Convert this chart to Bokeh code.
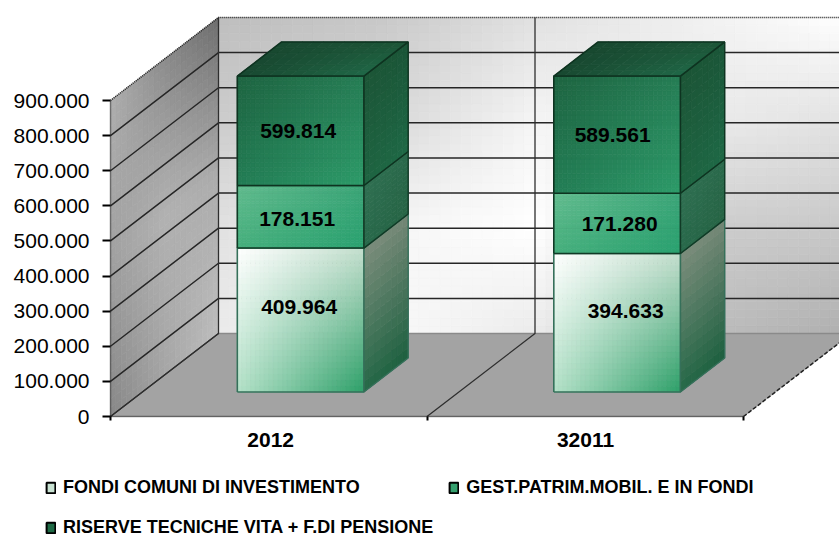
from bokeh.plotting import figure
from bokeh.models import (FixedTicker, Legend, LegendItem, Range1d)
from bokeh.core.properties import value
from bokeh.embed import file_html
from bokeh.resources import INLINE
import numpy as np

# ---- data
categories = ["2012", "32011"]
fondi = [409964, 394633]
gest = [178151, 171280]
riserve = [599814, 589561]
value_labels = [["409.964", "178.151", "599.814"], ["394.633", "171.280", "589.561"]]
y_ticks = [0, 100000, 200000, 300000, 400000, 500000, 600000, 700000, 800000, 900000]
y_labels = ["0", "100.000", "200.000", "300.000", "400.000", "500.000", "600.000", "700.000", "800.000", "900.000"]
series_names = ["FONDI COMUNI DI INVESTIMENTO", "GEST.PATRIM.MOBIL. E IN FONDI", "RISERVE TECNICHE VITA + F.DI PENSIONE"]
y_max = 900000

# ---- layout / projection
W, H = 839, 536
AXIS_X, AXIS_Y = 110, 416
PX_PER_CAT = 316.5
PX_PER_VAL = 316.0 / y_max
DEPTH_X = 108 / PX_PER_CAT
DEPTH_V = 83 / PX_PER_VAL
FONT = "Liberation Sans"


def proj(x, v, d=0.0):
    return (x + DEPTH_X * d, v + DEPTH_V * d)


p = figure(width=W, height=H, output_backend="svg", toolbar_location=None,
           min_border_left=0, min_border_right=0, min_border_top=0, min_border_bottom=0,
           x_range=Range1d(-AXIS_X / PX_PER_CAT, (W - AXIS_X) / PX_PER_CAT),
           y_range=Range1d((AXIS_Y - H) / PX_PER_VAL, AXIS_Y / PX_PER_VAL),
           background_fill_color="white", border_fill_color="white")
p.outline_line_color = None
p.grid.visible = False

# ---- axes
xa = p.xaxis[0]
xa.fixed_location = 0
xa.ticker = FixedTicker(ticks=[0.506, 1.501], minor_ticks=[0, 1, 2])
xa.major_label_overrides = {0.506: categories[0], 1.501: categories[1]}
xa.bounds = (0, 2)
xa.major_tick_in = xa.major_tick_out = 0
xa.minor_tick_in = 0
xa.minor_tick_out = 4
xa.minor_tick_line_width = 2
xa.minor_tick_line_color = "black"
xa.axis_line_color = "#222222"
xa.axis_line_width = 1.5
xa.axis_line_dash = "1 1"
xa.major_label_text_font = FONT
xa.major_label_text_font_style = "bold"
xa.major_label_text_font_size = "21px"
xa.major_label_text_color = "black"
xa.major_label_standoff = 12

ya = p.yaxis[0]
ya.fixed_location = 0
ya.ticker = FixedTicker(ticks=y_ticks)
ya.major_label_overrides = dict(zip(y_ticks, y_labels))
ya.bounds = (0, y_max)
ya.major_tick_in = 0
ya.major_tick_out = 8
ya.major_tick_line_width = 2
ya.major_tick_line_color = "black"
ya.minor_tick_in = ya.minor_tick_out = 0
ya.axis_line_color = "#222222"
ya.axis_line_width = 1.5
ya.axis_line_dash = "1 1"
ya.major_label_text_font = FONT
ya.major_label_text_font_style = "normal"
ya.major_label_text_font_size = "21px"
ya.major_label_text_color = "black"
ya.major_label_standoff = 13


# ---- shaded faces
def to_hex(c):
    return "#%02x%02x%02x" % tuple(int(round(max(0, min(255, a)))) for a in c)


def shaded_face(corners, grid, nu=14, nv=14):
    """corners BL, BR, TR, TL; grid rows run bottom to top, columns left to right."""
    g = np.array(grid, dtype=float)
    if g.ndim == 2:
        g = np.stack([g, g, g], axis=-1)
    rows, cols = g.shape[:2]
    c = np.array(corners, dtype=float)

    def pt(u, t):
        return (1 - t) * ((1 - u) * c[0] + u * c[1]) + t * ((1 - u) * c[3] + u * c[2])

    def col(u, t):
        fr, fc = t * (rows - 1), u * (cols - 1)
        r0, c0 = min(int(fr), rows - 2), min(int(fc), cols - 2)
        tr, tc = fr - r0, fc - c0
        return ((1 - tr) * ((1 - tc) * g[r0, c0] + tc * g[r0, c0 + 1])
                + tr * ((1 - tc) * g[r0 + 1, c0] + tc * g[r0 + 1, c0 + 1]))

    xs, ys, colors = [], [], []
    for i in range(nu):
        for j in range(nv):
            u0, u1, t0, t1 = i / nu, (i + 1) / nu, j / nv, (j + 1) / nv
            q = [pt(u0, t0), pt(u1, t0), pt(u1, t1), pt(u0, t1)]
            xs.append([a[0] for a in q])
            ys.append([a[1] for a in q])
            colors.append(to_hex(col((u0 + u1) / 2, (t0 + t1) / 2)))
    p.patches(xs=xs, ys=ys, fill_color=colors, line_color=colors, line_width=0.7)


x_end = 2.0
# floor
floor = [proj(0, 0, 0), proj(x_end, 0, 0), proj(x_end, 0, 1), proj(0, 0, 1)]
p.patch([a[0] for a in floor], [a[1] for a in floor], fill_color="#a3a3a3", line_color="#a3a3a3")
# left wall
shaded_face([proj(0, 0, 0), proj(0, 0, 1), proj(0, y_max, 1), proj(0, y_max, 0)],
            [[135, 165, 190], [160, 178, 172], [175, 140, 110]], nu=20, nv=36)
# back wall
shaded_face([proj(0, 0, 1), proj(x_end, 0, 1), proj(x_end, y_max, 1), proj(0, y_max, 1)],
            [[235, 250, 235, 190, 175],
             [225, 245, 255, 205, 200],
             [205, 215, 245, 235, 225],
             [190, 200, 225, 240, 255]], nu=60, nv=40)

# grid lines on the walls
gx, gy = [], []
for t in y_ticks:
    a, b, c = proj(0, t, 0), proj(0, t, 1), proj(x_end, t, 1)
    gx.append([a[0], b[0], c[0]])
    gy.append([a[1], b[1], c[1]])
p.multi_line(gx[1:-1], gy[1:-1], line_color="#262626", line_width=1.5)
# the lowest and top back-wall lines
a, b, c = proj(0, 0, 0), proj(0, 0, 1), proj(x_end, 0, 1)
p.line([a[0], b[0]], [a[1], b[1]], line_color="#333333", line_width=1.2)
p.line([b[0], c[0]], [b[1], c[1]], line_color="#8a8a8a", line_width=1.5)
# vertical dividers
vx, vy = [], []
for i in (0, 1):
    a, b, c = proj(i, 0, 0), proj(i, 0, 1), proj(i, y_max, 1)
    vx.append([a[0], b[0], c[0]])
    vy.append([a[1], b[1], c[1]])
p.multi_line(vx, vy, line_color="#2e2e2e", line_width=1.3)
# dotted outer edges
a, b, c = proj(0, y_max, 0), proj(0, y_max, 1), proj(x_end, y_max, 1)
p.line([a[0], b[0], c[0]], [a[1], b[1], c[1]], line_color="#222222", line_width=1.6, line_dash="1 1")
a, b = proj(x_end, 0, 0), proj(x_end, 0, 1)
p.line([a[0], b[0]], [a[1], b[1]], line_color="#222222", line_width=1.5, line_dash="4 2")

# ---- bars: stacked values are clipped by the axis maximum, as in the original
front_colors = [
    [[(180, 225, 200), (45, 160, 105)], [(255, 255, 255), (195, 222, 205)]],
    [[(70, 175, 125), (42, 162, 112)], [(98, 188, 143), (60, 165, 120)]],
    [[(35, 125, 85), (45, 155, 105)], [(30, 100, 65), (38, 125, 85)]],
]
side_colors = [
    [[(38, 105, 72), (28, 95, 62)], [(125, 142, 125), (115, 135, 118)]],
    [[(40, 105, 75), (38, 100, 68)], [(48, 112, 82), (42, 105, 75)]],
    [[(30, 100, 65), (30, 105, 70)], [(28, 85, 55), (26, 85, 55)]],
]
top_colors = [[(24, 72, 48), (32, 105, 72)], [(24, 72, 48), (28, 85, 55)]]
edge_colors = ["#35705a", "#113a26", "#0e3320"]
BAR_L, BAR_R, D0, D1 = 0.3, 0.7, 0.295, 0.705
label_dx = [[-1.5, -3.5, -2.5], [8.5, 2.5, -4.5]]
label_dv = [[37000, -7000, 0], [34000, -3000, 0]]

stacks = [fondi, gest, riserve]
lx, ly, lt = [], [], []
for i in range(len(categories)):
    x0, x1 = i + BAR_L, i + BAR_R
    base = 0
    for s, ser in enumerate(stacks):
        top = min(base + ser[i], y_max)
        front = [proj(x0, base, D0), proj(x1, base, D0), proj(x1, top, D0), proj(x0, top, D0)]
        side = [proj(x1, base, D0), proj(x1, base, D1), proj(x1, top, D1), proj(x1, top, D0)]
        shaded_face(front, front_colors[s], nu=28, nv=24)
        shaded_face(side, side_colors[s], nu=8, nv=14)
        ex, ey = zip(*(front + front[:1]))
        p.line(list(ex), list(ey), line_color=edge_colors[s], line_width=1.6)
        ex, ey = zip(*[side[0], side[1], side[2], side[3]])
        p.line(list(ex), list(ey), line_color=edge_colors[s], line_width=1.4)
        cx, cv = proj((x0 + x1) / 2, (base + top) / 2, D0)
        lx.append(cx + label_dx[i][s] / PX_PER_CAT)
        ly.append(cv + label_dv[i][s])
        lt.append(value_labels[i][s])
        base = top
    roof = [proj(x0, base, D0), proj(x1, base, D0), proj(x1, base, D1), proj(x0, base, D1)]
    shaded_face(roof, top_colors, nu=12, nv=6)
    ex, ey = zip(*(roof + roof[:1]))
    p.line(list(ex), list(ey), line_color="#0e3320", line_width=1.6)

p.text(x=lx, y=ly, text=lt, text_font=value(FONT), text_font_style="bold", text_font_size="21px",
       text_color="black", text_align="center", text_baseline="middle")

# ---- legend: the quads hold no drawable point, they only give the legend its swatches
swatch = ["#c8e2d2", "#35a06e", "#1f6a45"]
rs = [p.quad(left=[np.nan], right=[np.nan], top=[np.nan], bottom=[np.nan],
             fill_color=c, line_color="black", line_width=2) for c in swatch]
legend = Legend(items=[LegendItem(label=n, renderers=[r]) for n, r in zip(series_names, rs)],
                orientation="horizontal", ncols=2, location=(45, -4),
                glyph_width=11, glyph_height=13, label_standoff=7, spacing=15, padding=0, margin=0,
                label_height=25, border_line_color=None, background_fill_alpha=0,
                label_text_font=FONT, label_text_font_style="bold", label_text_font_size="18px",
                label_text_color="black", label_text_baseline="middle")
p.add_layout(legend)

open("out.html", "w").write(file_html(p, INLINE))
